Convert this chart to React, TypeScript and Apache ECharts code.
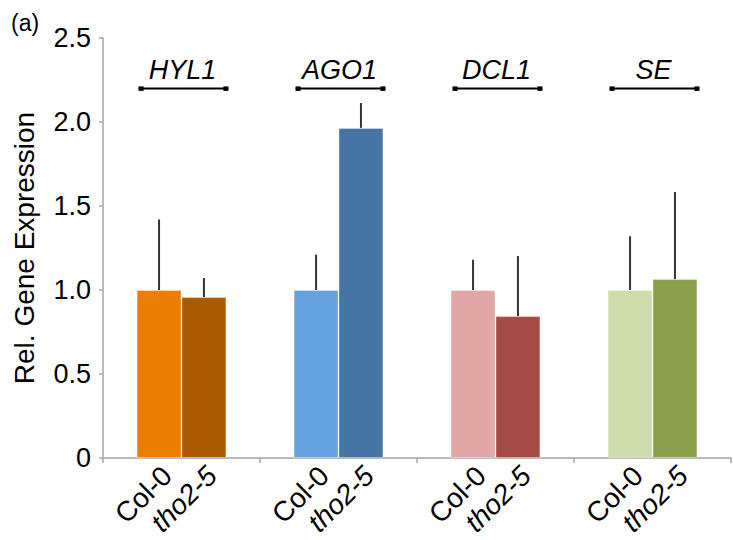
import React, { useEffect, useRef } from "react";
import * as echarts from "echarts";

const categories = ["HYL1", "AGO1", "DCL1", "SE"];
const seriesNames = ["Col-0", "tho2-5"];
const col0Values = [1.0, 1.0, 1.0, 1.0];
const col0Errors = [0.42, 0.21, 0.18, 0.32];
const tho25Values = [0.958, 1.965, 0.845, 1.065];
const tho25Errors = [0.113, 0.148, 0.357, 0.518];
const col0Colors = ["#EB7F04", "#66A3DE", "#E1A7A5", "#CDDCA9"];
const tho25Colors = ["#AA5A02", "#4775A3", "#A54B45", "#8AA04C"];
const bracketLevel = 2.2;
const yMin = 0;
const yMax = 2.5;
const yInterval = 0.5;

const FONT = '"Liberation Sans", Arial, sans-serif';

export default function App() {
  const ref = useRef<HTMLDivElement>(null);
  useEffect(() => {
    if (!ref.current) return;
    const chart = echarts.init(ref.current, null, { renderer: "svg" });
    const renderItem = (params: any, api: any) => {
      const i = params.dataIndex;
      const band = api.size([1, 0])[0];
      const half = band * 0.143;
      const [cx, y0] = api.coord([i, 0]);
      const colTop = api.coord([i, col0Values[i]])[1];
      const colErrTop = api.coord([i, col0Values[i] + col0Errors[i]])[1];
      const thoTop = api.coord([i, tho25Values[i]])[1];
      const thoErrTop = api.coord([i, tho25Values[i] + tho25Errors[i]])[1];
      const br = api.coord([i, bracketLevel])[1];
      const bx1 = cx - 2 * half + 2;
      const bx2 = cx + 2 * half + 2;
      const errStyle = { stroke: "#333333", lineWidth: 2 };
      return {
        type: "group",
        children: [
          { type: "line", shape: { x1: cx - half, y1: colTop, x2: cx - half, y2: colErrTop }, style: errStyle },
          { type: "line", shape: { x1: cx + half, y1: thoTop, x2: cx + half, y2: thoErrTop }, style: errStyle },
          { type: "line", shape: { x1: bx1, y1: br, x2: bx2, y2: br }, style: { stroke: "#000", lineWidth: 2 } },
          { type: "rect", shape: { x: bx1, y: br - 2, width: 5, height: 4.5 }, style: { fill: "#000" } },
          { type: "rect", shape: { x: bx2 - 5, y: br - 2, width: 5, height: 4.5 }, style: { fill: "#000" } },
          {
            type: "text",
            x: cx + 1,
            y: br - 18,
            style: {
              text: categories[i],
              font: "italic 27px " + FONT,
              fill: "#000",
              align: "center",
              verticalAlign: "middle",
            },
          },
          {
            type: "text",
            x: cx - half + 8,
            y: y0 + 13,
            rotation: Math.PI / 4,
            style: {
              text: seriesNames[0],
              font: "28px " + FONT,
              fill: "#000",
              align: "right",
              verticalAlign: "middle",
            },
          },
          {
            type: "text",
            x: cx + half + 8,
            y: y0 + 13,
            rotation: Math.PI / 4,
            style: {
              text: seriesNames[1],
              font: "italic 28px " + FONT,
              fill: "#000",
              align: "right",
              verticalAlign: "middle",
            },
          },
        ],
      };
    };
    chart.setOption({
      animation: false,
      graphic: [
        {
          type: "text",
          left: 11,
          top: 11,
          style: { text: "(a)", font: "23px " + FONT, fill: "#000" },
        },
      ],
      grid: { left: 103, right: 2, top: 38, bottom: 82, containLabel: false },
      xAxis: {
        type: "category",
        data: categories,
        axisLine: { lineStyle: { color: "#a6a6a6", width: 1.5 } },
        axisTick: { show: true, length: 5, lineStyle: { color: "#a6a6a6", width: 1.5 } },
        axisLabel: { show: false },
        splitLine: { show: false },
      },
      yAxis: {
        type: "value",
        min: yMin,
        max: yMax,
        interval: yInterval,
        name: "Rel. Gene Expression",
        nameLocation: "middle",
        nameGap: 65,
        nameTextStyle: { fontSize: 28, fontFamily: FONT, color: "#000" },
        axisLine: { show: true, lineStyle: { color: "#a6a6a6", width: 1.5 } },
        axisTick: { show: true, length: 4, lineStyle: { color: "#a6a6a6", width: 1.5 } },
        axisLabel: {
          fontSize: 27,
          fontFamily: FONT,
          color: "#000",
          margin: 12,
          formatter: (v: number) => (v === 0 ? "0" : v.toFixed(1)),
        },
        splitLine: { show: false },
      },
      series: [
        {
          name: seriesNames[0],
          type: "bar",
          barWidth: "28.6%",
          barGap: "0%",
          data: col0Values.map((v, i) => ({
            value: v,
            itemStyle: { color: col0Colors[i], borderColor: "rgba(255,255,255,0.35)", borderWidth: 1 },
          })),
        },
        {
          name: seriesNames[1],
          type: "bar",
          barWidth: "28.6%",
          barGap: "0%",
          data: tho25Values.map((v, i) => ({
            value: v,
            itemStyle: { color: tho25Colors[i], borderColor: "rgba(255,255,255,0.35)", borderWidth: 1 },
          })),
        },
        {
          type: "custom",
          renderItem,
          clip: false,
          z: 5,
          data: categories.map((c, i) => [i, col0Values[i]]),
        },
      ],
    });
    return () => chart.dispose();
  }, []);
  return <div ref={ref} style={{ width: 733, height: 540, position: "absolute", left: 0, top: 0 }} />;
}
